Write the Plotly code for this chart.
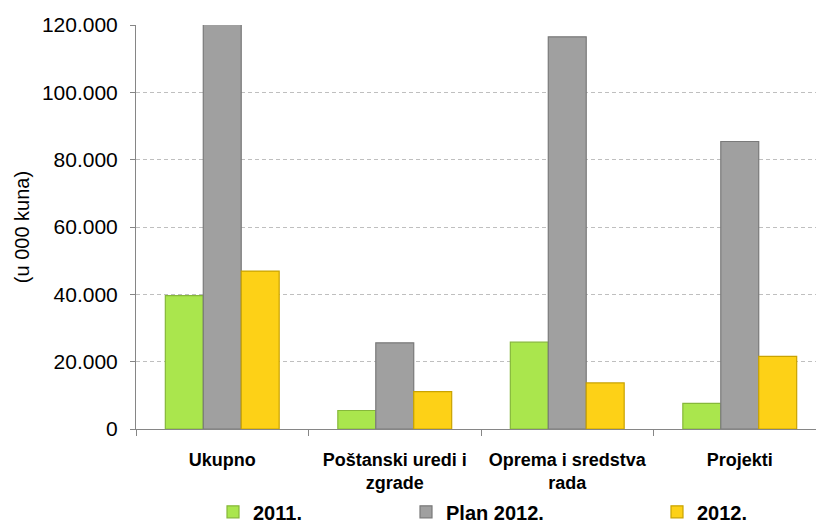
import plotly.graph_objects as go

categories = ["Ukupno", "Poštanski uredi i<br>zgrade", "Oprema i sredstva<br>rada", "Projekti"]
series_names = ["2011.", "Plan 2012.", "2012."]
values_2011 = [39600, 5500, 25800, 7600]
values_plan_2012 = [227500, 25600, 116500, 85400]
values_2012 = [46900, 11100, 13700, 21600]
y_ticks = [0, 20000, 40000, 60000, 80000, 100000, 120000]

fills = ["#AAE64D", "#A0A0A0", "#FDD117"]
edges = ["#86B83A", "#7A7A7A", "#C9A300"]
legend_ids = ["legend", "legend2", "legend3"]

arial = "Liberation Sans, Arial"

fig = go.Figure()
for name, vals, fc, ec, lg in zip(series_names, [values_2011, values_plan_2012, values_2012],
                                  fills, edges, legend_ids):
    fig.add_trace(go.Bar(
        x=categories, y=vals, name=name,
        marker=dict(color=fc, line=dict(color=ec, width=1.2)),
        legend=lg,
    ))

legend_common = dict(
    orientation="h", yanchor="middle", y=-0.205, xanchor="left",
    font=dict(family=arial, size=20, color="#000000", weight="bold"),
    bgcolor="rgba(0,0,0,0)", itemwidth=30,
)

fig.update_layout(
    width=816, height=523,
    margin=dict(l=136, r=0, t=25, b=94, autoexpand=False),
    paper_bgcolor="white", plot_bgcolor="white",
    barmode="group", bargap=0.34, bargroupgap=0,
    separators=",.",
    showlegend=True,
    legend=dict(x=(213 - 136) / 680, **legend_common),
    legend2=dict(x=(406 - 136) / 680, **legend_common),
    legend3=dict(x=(657 - 136) / 680, **legend_common),
    xaxis=dict(
        range=[-0.5, 3.442],
        showline=True, linecolor="#868686", linewidth=1,
        ticks="outside", tickson="boundaries", ticklen=6, tickcolor="#868686",
        tickangle=0, ticklabelstandoff=14,
        tickfont=dict(family=arial, size=18, color="#000000", weight="bold"),
        showgrid=False, zeroline=False, automargin=False,
    ),
    yaxis=dict(
        range=[0, 120000],
        tickvals=y_ticks, tickformat=",d",
        showline=True, linecolor="#868686", linewidth=1,
        ticks="outside", ticklen=5, tickcolor="#868686",
        ticklabelstandoff=8,
        tickfont=dict(family=arial, size=21, color="#000000"),
        showgrid=True, gridcolor="#BFBFBF", gridwidth=1, griddash="4px,3px",
        zeroline=False,
        title=dict(text="(u 000 kuna)", standoff=6,
                   font=dict(family=arial, size=20, color="#000000")),
        automargin=False,
    ),
)

fig.write_html("out.html", config={"displayModeBar": False},
               post_script="document.body.style.margin='0';")
